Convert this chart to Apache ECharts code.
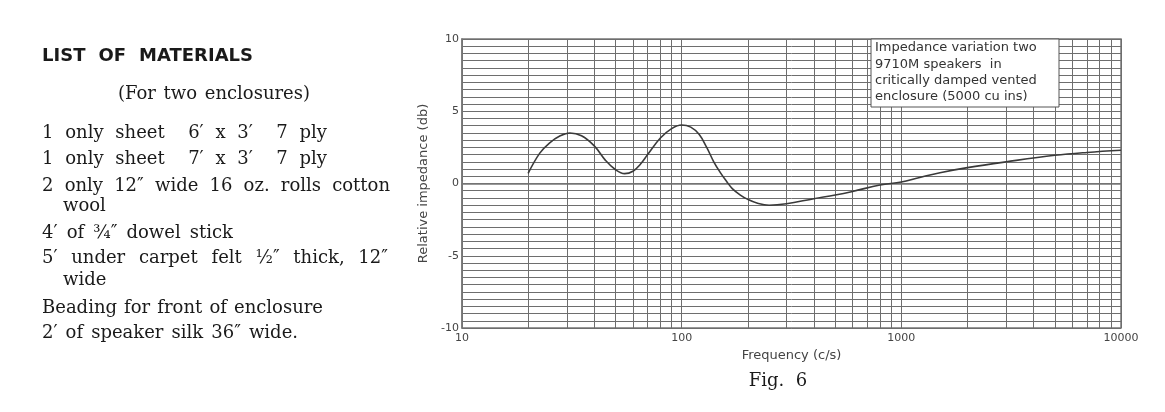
<!DOCTYPE html>
<html>
<head>
<meta charset="utf-8">
<script src="https://cdn.jsdelivr.net/npm/echarts@6/dist/echarts.min.js"></script>
<style>
html,body{margin:0;padding:0;background:#fff;}
#chart{width:1165px;height:412px;}
</style>
</head>
<body>
<div id="chart"></div>
<script>
// ---- data ----
const frequencies = [20, 22.6, 25, 28, 31, 35, 40, 45, 50, 55, 60, 65, 70, 80, 90, 100, 110, 120, 130, 140, 150, 160, 170, 185, 200, 220, 250, 300, 400, 500, 600, 800, 1000, 1200, 1500, 2000, 3000, 5000, 7000, 10000];
const impedanceDb = [0.7, 2.1, 2.8, 3.3, 3.5, 3.3, 2.6, 1.6, 0.95, 0.68, 0.85, 1.35, 2.0, 3.15, 3.8, 4.05, 3.9, 3.4, 2.5, 1.5, 0.75, 0.15, -0.35, -0.8, -1.1, -1.35, -1.5, -1.4, -1.05, -0.8, -0.55, -0.1, 0.1, 0.4, 0.75, 1.1, 1.5, 1.95, 2.15, 2.3];
const minorFreqGrid = [20,30,40,50,60,70,80,90,200,300,400,500,600,700,800,900,2000,3000,4000,5000,6000,7000,8000,9000];
const xTickLabels = [10, 100, 1000, 10000];
const yTickLabels = [-10, -5, 0, 5, 10];
const annotationLines = ['Impedance variation two', '9710M speakers  in', 'critically damped vented', 'enclosure (5000 cu ins)'];
const materialsTitle = 'LIST OF MATERIALS';
const materialsSub = '(For two enclosures)';
const materialsLines = [
  '1 only sheet  6\u2032 x 3\u2032  7 ply',
  '1 only sheet  7\u2032 x 3\u2032  7 ply',
  '2 only 12\u2033 wide 16 oz. rolls cotton',
  'wool',
  '4\u2032 of \u00be\u2033 dowel stick',
  '5\u2032 under carpet felt \u00bd\u2033 thick, 12\u2033',
  'wide',
  'Beading for front of enclosure',
  '2\u2032 of speaker silk 36\u2033 wide.'
];
const xAxisTitle = 'Frequency (c/s)';
const yAxisTitle = 'Relative impedance (db)';
const figCaption = 'Fig.  6';

// ---- layout (pixels) ----
const serif = 'DejaVu Serif';
const serifSize = 18;
// [x start, baseline, right end or null]
const lineLayout = [
  [42, 140, 327], [42, 166, 327], [42, 193, 390], [63, 213, null],
  [42, 240, 233], [42, 265, 388], [63, 287, null], [42, 315, 323], [42, 340, 298]
];

const mctx = document.createElement('canvas').getContext('2d');
function justify(text, x, baseline, right, size, family, weight) {
  const font = (weight || 'normal') + ' ' + size + 'px "' + family + '"';
  mctx.font = font;
  const tokens = text.split(' ');
  const words = [], weights = [];
  let w = 0;
  tokens.forEach((t) => {
    if (t === '') { w += 1; return; }
    if (words.length) weights.push(w + 1);
    words.push(t); w = 0;
  });
  const widths = words.map(s => mctx.measureText(s).width);
  const sumW = widths.reduce((a, b) => a + b, 0);
  const sumWt = weights.reduce((a, b) => a + b, 0);
  let unit = mctx.measureText(' ').width;
  if (right != null && sumWt > 0) unit = Math.max(2, (right - x - sumW) / sumWt);
  const els = [];
  let cx = x;
  words.forEach((s, i) => {
    els.push({
      type: 'text', x: cx, y: baseline - 0.36 * size, silent: true,
      style: { text: s, font: font, fill: '#1a1a1a', verticalAlign: 'middle', align: 'left' }
    });
    cx += widths[i] + (i < weights.length ? weights[i] * unit : 0);
  });
  return els;
}

const graphics = [];
graphics.push(...justify(materialsTitle, 42, 63, 253, 18, 'DejaVu Sans', 'bold'));
graphics.push(...justify(materialsSub, 118, 101, 310, serifSize, serif));
materialsLines.forEach((t, i) => {
  const L = lineLayout[i];
  graphics.push(...justify(t, L[0], L[1], L[2], serifSize, serif));
});
// annotation box
graphics.push({
  type: 'rect', z: 100, shape: { x: 871, y: 39, width: 188, height: 68 },
  style: { fill: '#fff', stroke: '#555', lineWidth: 1 }
});
annotationLines.forEach((t, i) => {
  graphics.push({
    type: 'text', z: 101, x: 875, y: 48 + i * 16.3,
    style: { text: t, font: '13px "DejaVu Sans"', fill: '#333', verticalAlign: 'middle' }
  });
});
graphics.push({
  type: 'text', x: 778, y: 381,
  style: { text: figCaption, font: '18px "' + serif + '"', fill: '#1a1a1a', align: 'center', verticalAlign: 'middle' }
});

const gridColor = '#6e6e6e';
const chart = echarts.init(document.getElementById('chart'), null, { renderer: 'canvas' });
chart.setOption({
  animation: false,
  backgroundColor: '#fff',
  grid: { left: 462, right: 44, top: 39, bottom: 84, show: true, borderColor: '#777', borderWidth: 1.5, containLabel: false },
  xAxis: {
    type: 'log', logBase: 10, min: xTickLabels[0], max: xTickLabels[xTickLabels.length - 1],
    name: xAxisTitle, nameLocation: 'middle', nameGap: 19,
    nameTextStyle: { fontFamily: 'DejaVu Sans', fontSize: 13, color: '#444' },
    axisLine: { show: true, lineStyle: { color: '#777', width: 1.5 } },
    axisTick: { show: false },
    axisLabel: { margin: 5, fontFamily: 'DejaVu Sans', fontSize: 11, color: '#444', formatter: v => String(v) },
    splitLine: { show: true, lineStyle: { color: gridColor, width: 1 } }
  },
  yAxis: {
    type: 'value', min: yTickLabels[0], max: yTickLabels[yTickLabels.length - 1], interval: 5,
    name: yAxisTitle, nameLocation: 'middle', nameGap: 24, nameRotate: 90,
    nameTextStyle: { fontFamily: 'DejaVu Sans', fontSize: 13, color: '#444' },
    axisLine: { show: true, lineStyle: { color: '#777', width: 1.5 } },
    axisTick: { show: false },
    axisLabel: { margin: 3, fontFamily: 'DejaVu Sans', fontSize: 11, color: '#444' },
    splitLine: { show: true, lineStyle: { color: gridColor, width: 1 } },
    minorTick: { show: false, splitNumber: 10 },
    minorSplitLine: { show: true, lineStyle: { color: gridColor, width: 1 } }
  },
  series: [{
    type: 'line',
    data: frequencies.map((f, i) => [f, impedanceDb[i]]),
    smooth: 0.4,
    showSymbol: false,
    lineStyle: { color: '#3a3a3a', width: 1.6 },
    z: 5,
    markLine: {
      silent: true, symbol: ['none', 'none'], label: { show: false },
      lineStyle: { color: gridColor, width: 1, type: 'solid' },
      data: minorFreqGrid.map(f => ({ xAxis: f }))
    }
  }],
  graphic: graphics
});
</script>
</body>
</html>
